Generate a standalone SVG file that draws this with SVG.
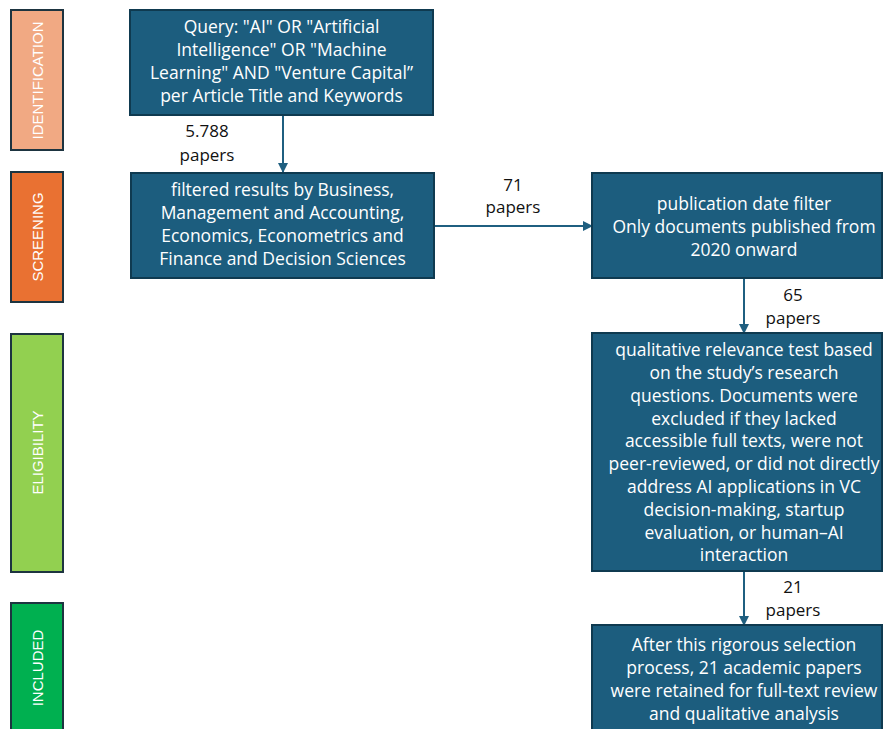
<svg xmlns="http://www.w3.org/2000/svg" width="883" height="729" viewBox="0 0 883 729">
<defs>
<style>
.box{fill:#1c5d7e;stroke:#0f3a50;stroke-width:2}
.bt{font-family:"Open Sans","Noto Sans",sans-serif;font-size:17.5px;fill:#ffffff;text-anchor:middle}
.lab{font-family:"Open Sans","Noto Sans",sans-serif;font-size:17px;fill:#111111;text-anchor:middle}
.bar{stroke:#1d3440;stroke-width:2}
.bart{font-family:"Liberation Sans",Arial,sans-serif;font-size:15px;fill:#ffffff;text-anchor:middle}
.conn{stroke:#1f5f80;stroke-width:2;fill:none;marker-end:url(#ah)}
</style>
<marker id="ah" viewBox="0 0 10 10" refX="9" refY="5" markerWidth="5" markerHeight="5" orient="auto">
<path d="M0,0 L10,5 L0,10 z" fill="#1f5f80"/>
</marker>
</defs>
<rect width="883" height="729" fill="#ffffff"/>

<g id="phase-identification">
<rect class="bar" x="11" y="10" width="52" height="140" fill="#f1a983"/>
<text class="bart" transform="translate(43,80.5) rotate(-90)">IDENTIFICATION</text>
</g>
<g id="phase-screening">
<rect class="bar" x="11" y="172" width="52" height="130" fill="#e97132"/>
<text class="bart" transform="translate(43,237) rotate(-90)">SCREENING</text>
</g>
<g id="phase-eligibility">
<rect class="bar" x="11" y="334" width="52" height="238" fill="#92d050"/>
<text class="bart" transform="translate(43,452.5) rotate(-90)">ELIGIBILITY</text>
</g>
<g id="phase-included">
<rect class="bar" x="11" y="603" width="52" height="140" fill="#00b050"/>
<text class="bart" transform="translate(43,668) rotate(-90)">INCLUDED</text>
</g>

<g id="connectors">
<line class="conn" x1="283" y1="115" x2="283" y2="172"/>
<line class="conn" x1="434" y1="226" x2="592" y2="226"/>
<line class="conn" x1="744" y1="278" x2="744" y2="333"/>
<line class="conn" x1="744" y1="571" x2="744" y2="625"/>
<text class="lab" x="207" y="137">5.788</text>
<text class="lab" x="207" y="161">papers</text>
<text class="lab" x="513" y="191">71</text>
<text class="lab" x="513" y="213">papers</text>
<text class="lab" x="793" y="301">65</text>
<text class="lab" x="793" y="324">papers</text>
<text class="lab" x="793" y="593">21</text>
<text class="lab" x="793" y="616">papers</text>
</g>

<g id="node-query">
<rect class="box" x="130" y="10" width="303" height="105"/>
<text class="bt" x="281.5" y="33">Query: "AI" OR "Artificial</text>
<text class="bt" x="281.5" y="56">Intelligence" OR "Machine</text>
<text class="bt" x="281.5" y="79">Learning" AND "Venture Capital”</text>
<text class="bt" x="281.5" y="102">per Article Title and Keywords</text>
</g>

<g id="node-subject-filter">
<rect class="box" x="131" y="173" width="303" height="105"/>
<text class="bt" x="282.5" y="196">filtered results by Business,</text>
<text class="bt" x="282.5" y="219">Management and Accounting,</text>
<text class="bt" x="282.5" y="242">Economics, Econometrics and</text>
<text class="bt" x="282.5" y="265">Finance and Decision Sciences</text>
</g>

<g id="node-date-filter">
<rect class="box" x="592" y="173" width="290" height="105"/>
<text class="bt" x="744" y="210">publication date filter</text>
<text class="bt" x="744" y="233">Only documents published from</text>
<text class="bt" x="744" y="256">2020 onward</text>
</g>

<g id="node-eligibility">
<rect class="box" x="592" y="333" width="290" height="238"/>
<text class="bt" x="744" y="356">qualitative relevance test based</text>
<text class="bt" x="744" y="379">on the study’s research</text>
<text class="bt" x="744" y="402">questions. Documents were</text>
<text class="bt" x="744" y="425">excluded if they lacked</text>
<text class="bt" x="744" y="447">accessible full texts, were not</text>
<text class="bt" x="744" y="470">peer-reviewed, or did not directly</text>
<text class="bt" x="744" y="493">address AI applications in VC</text>
<text class="bt" x="744" y="516">decision-making, startup</text>
<text class="bt" x="744" y="539">evaluation, or human–AI</text>
<text class="bt" x="744" y="561">interaction</text>
</g>

<g id="node-included">
<rect class="box" x="592" y="625" width="290" height="120"/>
<text class="bt" x="744" y="651">After this rigorous selection</text>
<text class="bt" x="744" y="674">process, 21 academic papers</text>
<text class="bt" x="744" y="697">were retained for full-text review</text>
<text class="bt" x="744" y="720">and qualitative analysis</text>
</g>
</svg>
